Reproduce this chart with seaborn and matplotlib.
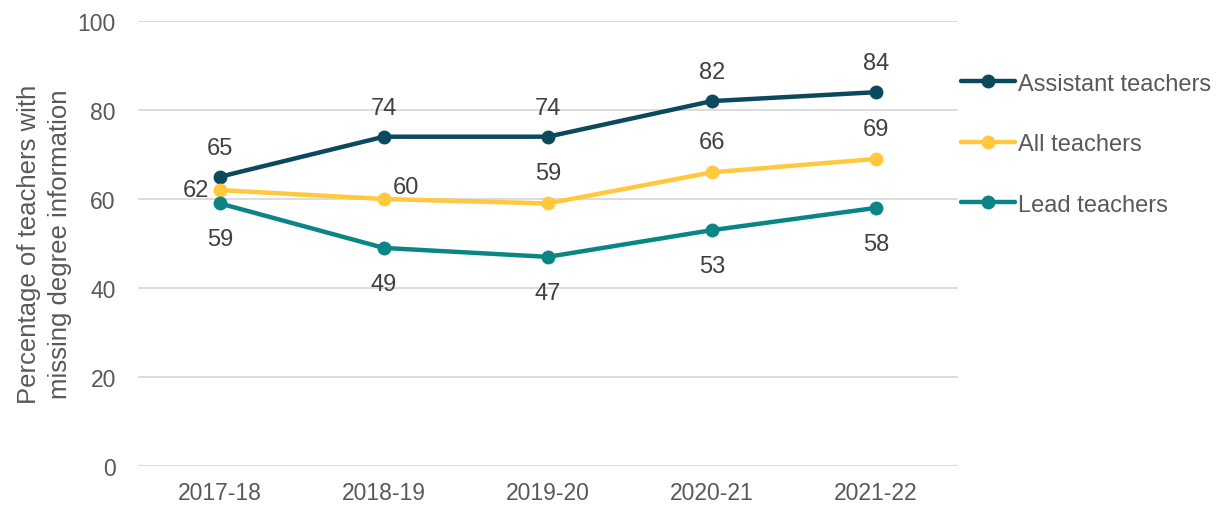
import matplotlib
matplotlib.use("Agg")
import matplotlib.pyplot as plt
import seaborn as sns
import pandas as pd
from matplotlib.lines import Line2D

years = ["2017-18", "2018-19", "2019-20", "2020-21", "2021-22"]
assistant = [65, 74, 74, 82, 84]
all_teachers = [62, 60, 59, 66, 69]
lead = [59, 49, 47, 53, 58]
series_names = ["Assistant teachers", "All teachers", "Lead teachers"]

colors = {"Assistant teachers": "#0b4a5c", "All teachers": "#ffc83d", "Lead teachers": "#0a8585"}

df = pd.DataFrame({
    "year": years * 3,
    "value": assistant + all_teachers + lead,
    "series": [series_names[0]] * 5 + [series_names[1]] * 5 + [series_names[2]] * 5,
})

sns.set_style("white")
plt.rcParams['font.family'] = ['Liberation Sans', 'DejaVu Sans']
text_color = "#595959"
label_color = "#404040"

fig = plt.figure(figsize=(12.17, 5.06), dpi=100)
ax = fig.add_axes([0.1134, 0.0771, 0.6736, 0.8794])

sns.lineplot(data=df, x="year", y="value", hue="series", hue_order=series_names,
             palette=colors, marker="o", markersize=10, linewidth=3.2,
             markeredgewidth=0, sort=False, ax=ax, legend=False)

ax.set_xlim(-0.5, 4.5)
ax.set_ylim(0, 100)
ax.set_yticks([0, 20, 40, 60, 80, 100])
ax.yaxis.grid(True, color="#d9d9d9", linewidth=1.3)
ax.set_axisbelow(True)
for s in ax.spines.values():
    s.set_visible(False)
ax.tick_params(axis="both", colors=text_color, labelsize=16.5, length=0)
ax.tick_params(axis="x", pad=11)
ax.tick_params(axis="y", pad=16)
ax.set_xlabel("")
ax.set_ylabel("Percentage of teachers with\nmissing degree information", fontsize=18.5,
              color=text_color, labelpad=4, linespacing=1.38)

fs = 17
for i, v in enumerate(assistant):
    ax.annotate(str(v), (i, v), xytext=(0, 13), textcoords="offset points",
                ha="center", va="bottom", fontsize=fs, color=label_color)
for i, v in enumerate(lead):
    ax.annotate(str(v), (i, v), xytext=(0, -18), textcoords="offset points",
                ha="center", va="top", fontsize=fs, color=label_color)
for i, v in enumerate(all_teachers):
    if i == 0:
        ax.annotate(str(v), (i, v), xytext=(-8, 0), textcoords="offset points",
                    ha="right", va="center", fontsize=fs, color=label_color)
    elif i == 1:
        ax.annotate(str(v), (i, v), xytext=(16, 1), textcoords="offset points",
                    ha="center", va="bottom", fontsize=fs, color=label_color)
    else:
        ax.annotate(str(v), (i, v), xytext=(0, 14), textcoords="offset points",
                    ha="center", va="bottom", fontsize=fs, color=label_color)

handles = [Line2D([], [], color=colors[n], marker="o", markersize=10, linewidth=3.2,
                  markeredgewidth=0) for n in series_names]
leg = fig.legend(handles, series_names, loc="upper left", bbox_to_anchor=(0.782, 0.873),
                 frameon=False, fontsize=17, labelspacing=1.63, handlelength=2.3,
                 handletextpad=0.12, borderaxespad=0)
for t in leg.get_texts():
    t.set_color(text_color)

fig.savefig("out.png", dpi=100)
